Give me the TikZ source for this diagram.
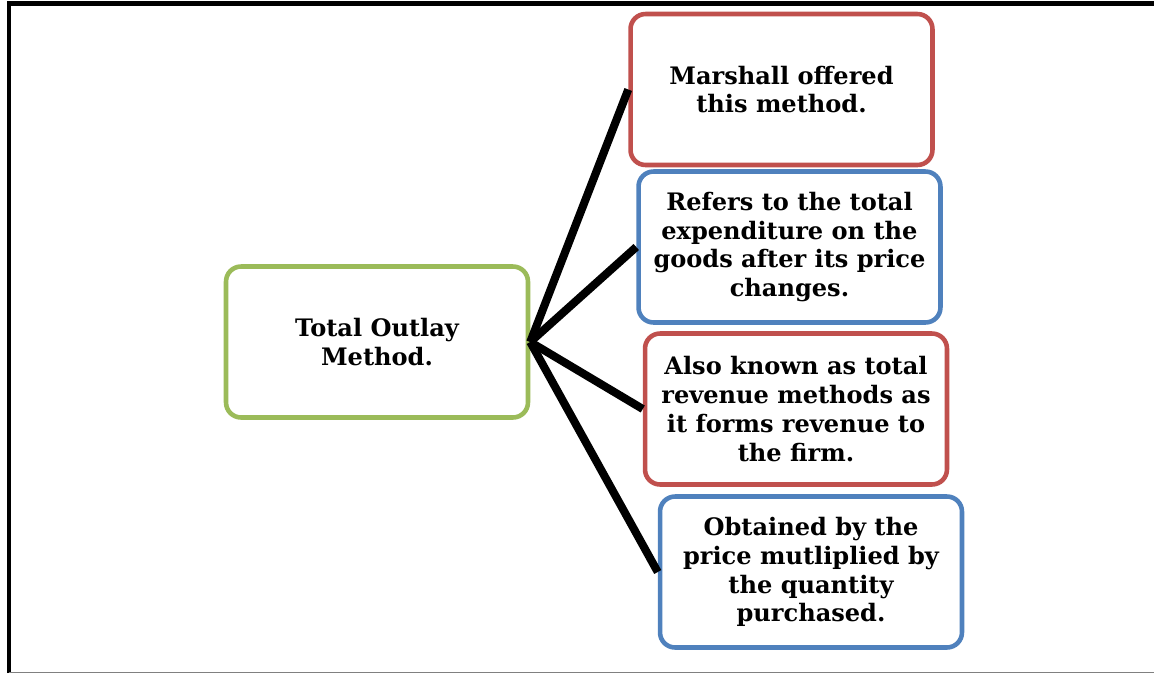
\documentclass[tikz,border=0pt]{standalone}
\usepackage{fontspec}
\setmainfont{DejaVu Serif}
\usetikzlibrary{positioning}
\definecolor{boxgreen}{RGB}{155,187,89}
\definecolor{boxred}{RGB}{192,80,77}
\definecolor{boxblue}{RGB}{79,129,189}

\begin{document}
\begin{tikzpicture}[
  x=0.02cm, y=-0.02cm,
  box/.style={draw, rounded corners=0.3cm, line width=2.6pt, fill=white,
    minimum width=6.04cm, minimum height=3.02cm, align=center,
    font=\fontsize{13.7}{16.4}\selectfont\bfseries},
  spoke/.style={line width=4.6pt, black},
  frame/.style={line width=2.4pt, black}
]
  \useasboundingbox (0,0) rectangle (1154,674);
  % Frame
  \draw[frame] (9,673) -- (9,3.5) -- (1154,3.5);
  \draw[gray, line width=0.8pt] (9,672.5) -- (1154,672.5);
  % Nodes
  \node[box, draw=boxgreen] (outlay) at (377,342) {Total Outlay\\Method.};
  \node[box, draw=boxred] (marshall) at (781.5,89.5)
    {Marshall offered\\this method.};
  \node[box, draw=boxblue] (refers) at (789.5,247)
    {Refers to the total\\expenditure on the\\goods after its price\\changes.};
  \node[box, draw=boxred] (revenue) at (796,409)
    {Also known as total\\revenue methods as\\it forms revenue to\\the firm.};
  \node[box, draw=boxblue] (obtained) at (811,572)
    {Obtained by the\\price mutliplied by\\the quantity\\purchased.};
  % Spokes
  \foreach \n in {marshall,refers,revenue,obtained}
    \draw[spoke] (outlay.east) -- (\n.west);
\end{tikzpicture}
\end{document}
